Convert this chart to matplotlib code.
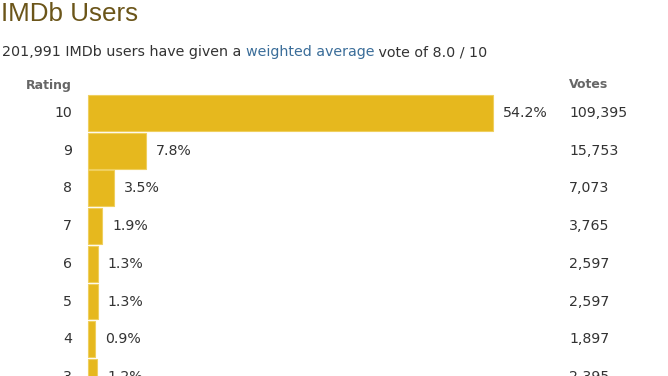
import matplotlib
matplotlib.use("Agg")
import matplotlib.pyplot as plt

ratings = [10, 9, 8, 7, 6, 5, 4, 3]
percents = [54.2, 7.8, 3.5, 1.9, 1.3, 1.3, 0.9, 1.2]
votes = [109395, 15753, 7073, 3765, 2597, 2597, 1897, 2395]

title = "IMDb Users"
sub_parts = [("201,991 IMDb users have given a ", "#333333"),
             ("weighted average", "#3a6d99"),
             (" vote of 8.0 / 10", "#333333")]

W, H = 668, 376
fig = plt.figure(figsize=(W / 100, H / 100), dpi=100)
ax = fig.add_axes([0, 0, 1, 1])
ax.set_axis_off()

x0 = 88.0        # bar start pixel
pxper = 7.47     # pixels per percent
y0 = 113.0       # first row center pixel
pitch = 37.7
ax.set_xlim(-x0 / pxper, (W - x0) / pxper)
ax.set_ylim((H - y0) / pitch, -y0 / pitch)

idx = list(range(len(ratings)))
ax.barh(idx, percents, height=0.95, color="#e6b81e", edgecolor="#efcf5e",
        linewidth=0.8)

def px2x(px):
    return (px - x0) / pxper

fs = 10.2
for i, (r, p, v) in enumerate(zip(ratings, percents, votes)):
    ax.text(px2x(72), i, str(r), ha="right", va="center", fontsize=fs,
            color="#333333")
    ax.text(p + 10 / pxper, i, f"{p}%", ha="left", va="center", fontsize=fs,
            color="#333333")
    ax.text(px2x(569), i, f"{v:,}", ha="left", va="center", fontsize=fs,
            color="#333333")

hy = (85 - y0) / pitch
ax.text(px2x(72), hy, "Rating", ha="right", va="center", fontsize=9,
        fontweight="bold", color="#666666")
ax.text(px2x(569), hy, "Votes", ha="left", va="center", fontsize=9,
        fontweight="bold", color="#666666")

fig.text(1 / W, 1 - 14 / H, title, ha="left", va="center", fontsize=18.7,
         family="Liberation Sans", color="#6b5519")

renderer = fig.canvas.get_renderer()
xpos = 2.0
for txt, col in sub_parts:
    t = fig.text(xpos / W, 1 - 52 / H, txt, ha="left", va="center",
                 fontsize=10.25, color=col)
    bb = t.get_window_extent(renderer=renderer)
    xpos += bb.width

fig.savefig("out.png", dpi=100)
